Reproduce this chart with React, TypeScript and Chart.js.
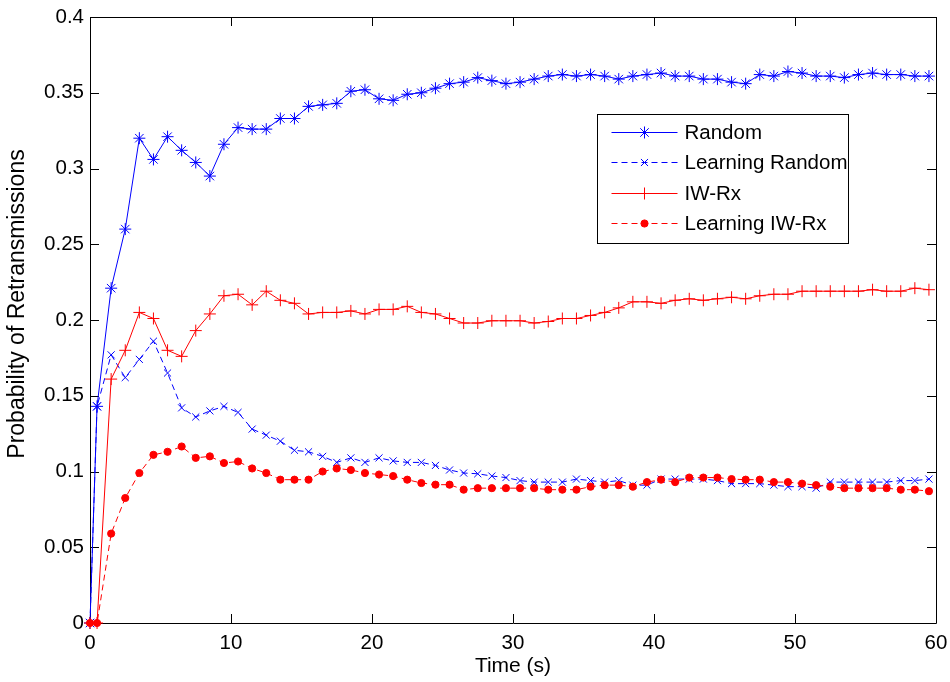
import React, { useEffect, useRef } from 'react';
import { Chart, registerables } from 'chart.js';

Chart.register(...registerables);

const times = [
  0, 0.5, 1.5, 2.5, 3.5, 4.5, 5.5, 6.5, 7.5, 8.5, 9.5, 10.5, 11.5, 12.5, 13.5, 14.5,
  15.5, 16.5, 17.5, 18.5, 19.5, 20.5, 21.5, 22.5, 23.5, 24.5, 25.5, 26.5, 27.5, 28.5,
  29.5, 30.5, 31.5, 32.5, 33.5, 34.5, 35.5, 36.5, 37.5, 38.5, 39.5, 40.5, 41.5, 42.5,
  43.5, 44.5, 45.5, 46.5, 47.5, 48.5, 49.5, 50.5, 51.5, 52.5, 53.5, 54.5, 55.5, 56.5,
  57.5, 58.5, 59.5,
];

const randomVals = [
  0, 0.143, 0.221, 0.26, 0.32, 0.306, 0.321, 0.312, 0.304, 0.295, 0.316, 0.327, 0.326,
  0.326, 0.333, 0.333, 0.341, 0.342, 0.343, 0.351, 0.352, 0.346, 0.345, 0.349, 0.35,
  0.353, 0.356, 0.357, 0.36, 0.358, 0.356, 0.357, 0.359, 0.361, 0.362, 0.361, 0.362,
  0.361, 0.359, 0.361, 0.362, 0.363, 0.361, 0.361, 0.359, 0.359, 0.357, 0.356, 0.362,
  0.361, 0.364, 0.363, 0.361, 0.361, 0.36, 0.362, 0.363, 0.362, 0.362, 0.361, 0.361,
];

const learningRandomVals = [
  0, 0.143, 0.177, 0.162, 0.174, 0.186, 0.165, 0.142, 0.136, 0.14, 0.143, 0.139, 0.128,
  0.124, 0.12, 0.114, 0.113, 0.11, 0.106, 0.109, 0.106, 0.109, 0.107, 0.106, 0.106,
  0.104, 0.101, 0.099, 0.0985, 0.097, 0.096, 0.094, 0.093, 0.093, 0.093, 0.095, 0.094,
  0.093, 0.094, 0.091, 0.091, 0.095, 0.095, 0.095, 0.095, 0.094, 0.092, 0.092, 0.092,
  0.091, 0.09, 0.09, 0.089, 0.093, 0.093, 0.093, 0.093, 0.093, 0.094, 0.094, 0.095,
];

const iwRxVals = [
  0, 0, 0.161, 0.18, 0.205, 0.201, 0.18, 0.176, 0.193, 0.204, 0.216, 0.217, 0.21, 0.219,
  0.213, 0.211, 0.204, 0.205, 0.205, 0.206, 0.204, 0.207, 0.207, 0.209, 0.205, 0.204,
  0.201, 0.198, 0.198, 0.1995, 0.1995, 0.1995, 0.198, 0.199, 0.201, 0.201, 0.203, 0.205,
  0.208, 0.212, 0.212, 0.211, 0.213, 0.214, 0.213, 0.214, 0.215, 0.214, 0.216, 0.217,
  0.217, 0.219, 0.219, 0.219, 0.219, 0.219, 0.22, 0.219, 0.219, 0.221, 0.22,
];

const learningIwRxVals = [
  0, 0, 0.059, 0.0825, 0.099, 0.111, 0.113, 0.1165, 0.109, 0.11, 0.1056, 0.1066, 0.102,
  0.099, 0.0946, 0.0946, 0.0946, 0.1, 0.102, 0.101, 0.099, 0.098, 0.097, 0.0946, 0.0924,
  0.0913, 0.0913, 0.088, 0.089, 0.089, 0.089, 0.089, 0.089, 0.088, 0.088, 0.088, 0.09,
  0.091, 0.091, 0.09, 0.093, 0.0946, 0.093, 0.096, 0.096, 0.096, 0.095, 0.0946, 0.0946,
  0.093, 0.093, 0.092, 0.091, 0.09, 0.089, 0.089, 0.089, 0.089, 0.088, 0.088, 0.087,
];

const seriesLabels = ['Random', 'Learning Random', 'IW-Rx', 'Learning IW-Rx'];
const xTickValues = [0, 10, 20, 30, 40, 50, 60];
const xTickLabels = ['0', '10', '20', '30', '40', '50', '60'];
const yTickValues = [0, 0.05, 0.1, 0.15, 0.2, 0.25, 0.3, 0.35, 0.4];
const yTickLabels = ['0', '0.05', '0.1', '0.15', '0.2', '0.25', '0.3', '0.35', '0.4'];
const xTitle = 'Time (s)';
const yTitle = 'Probability of Retransmissions';

const FONT = "'Liberation Sans', Arial, sans-serif";
const BLUE = '#0000ff';
const RED = '#ff0000';

function drawMarker(ctx: CanvasRenderingContext2D, style: string, x: number, y: number, r: number, color: string) {
  ctx.save();
  ctx.strokeStyle = color;
  ctx.fillStyle = color;
  ctx.lineWidth = 1;
  ctx.setLineDash([]);
  ctx.beginPath();
  const d = r * Math.SQRT1_2;
  if (style === 'star' || style === 'cross') {
    ctx.moveTo(x - r, y);
    ctx.lineTo(x + r, y);
    ctx.moveTo(x, y - r);
    ctx.lineTo(x, y + r);
  }
  if (style === 'star' || style === 'crossRot') {
    ctx.moveTo(x - d, y - d);
    ctx.lineTo(x + d, y + d);
    ctx.moveTo(x - d, y + d);
    ctx.lineTo(x + d, y - d);
  }
  if (style === 'circle') {
    ctx.arc(x, y, r, 0, Math.PI * 2);
    ctx.fill();
  }
  ctx.stroke();
  ctx.restore();
}

const boxPlugin = {
  id: 'matlabBox',
  beforeDatasetsDraw(chart: any) {
    const { ctx, chartArea } = chart;
    const { left, right, top, bottom } = chartArea;
    const xs = chart.scales.x;
    const ys = chart.scales.y;
    const tl = 9;
    ctx.save();
    ctx.strokeStyle = '#000';
    ctx.lineWidth = 1;
    ctx.beginPath();
    ctx.rect(Math.round(left) + 0.5, Math.round(top) + 0.5, Math.round(right - left), Math.round(bottom - top));
    ctx.stroke();
    ctx.beginPath();
    xTickValues.forEach((v) => {
      const px = Math.round(xs.getPixelForValue(v)) + 0.5;
      ctx.moveTo(px, bottom);
      ctx.lineTo(px, bottom - tl);
      ctx.moveTo(px, top);
      ctx.lineTo(px, top + tl);
    });
    yTickValues.forEach((v) => {
      const py = Math.round(ys.getPixelForValue(v)) + 0.5;
      ctx.moveTo(left, py);
      ctx.lineTo(left + tl, py);
      ctx.moveTo(right, py);
      ctx.lineTo(right - tl, py);
    });
    ctx.stroke();
    // y-axis title
    ctx.translate(18, (top + bottom) / 2 - 16);
    ctx.rotate(-Math.PI / 2);
    ctx.fillStyle = '#000';
    ctx.font = `23px ${FONT}`;
    ctx.textAlign = 'center';
    ctx.textBaseline = 'middle';
    ctx.fillText(yTitle, 0, 0);
    ctx.restore();
  },
};

const legendPlugin = {
  id: 'matlabLegend',
  afterDraw(chart: any) {
    const { ctx, chartArea } = chart;
    const bx = Math.round(chartArea.right - 339) + 0.5;
    const by = Math.round(chartArea.top + 97) + 0.5;
    const bw = 251;
    const bh = 129;
    ctx.save();
    ctx.fillStyle = '#fff';
    ctx.fillRect(bx, by, bw, bh);
    ctx.strokeStyle = '#000';
    ctx.lineWidth = 1;
    ctx.strokeRect(bx, by, bw, bh);
    ctx.font = `20.5px ${FONT}`;
    ctx.textBaseline = 'middle';
    ctx.textAlign = 'left';
    chart.data.datasets.forEach((ds: any, i: number) => {
      const y = Math.round(by + 17.5 + i * 30.3) + 0.5;
      ctx.save();
      ctx.strokeStyle = ds.borderColor;
      ctx.lineWidth = 1;
      ctx.setLineDash(ds.borderDash || []);
      ctx.beginPath();
      ctx.moveTo(bx + 14, y);
      ctx.lineTo(bx + 80, y);
      ctx.stroke();
      ctx.restore();
      drawMarker(ctx, ds.pointStyle, bx + 47, y, ds.pointRadius, ds.borderColor);
      ctx.fillStyle = '#000';
      ctx.fillText(ds.label, bx + 87, y + 1);
    });
    ctx.restore();
  },
};

function makePoints(vals: number[]) {
  return times.map((t, i) => ({ x: t, y: vals[i] }));
}

export default function App() {
  const ref = useRef<HTMLCanvasElement>(null);

  useEffect(() => {
    const canvas = ref.current;
    if (!canvas) return;
    const styles = [
      { color: BLUE, dash: [], point: 'star', r: 6, order: 3 },
      { color: BLUE, dash: [6, 4], point: 'crossRot', r: 5, order: 2 },
      { color: RED, dash: [], point: 'cross', r: 6, order: 1 },
      { color: RED, dash: [6, 4], point: 'circle', r: 3.6, order: 0 },
    ];
    const valueSets = [randomVals, learningRandomVals, iwRxVals, learningIwRxVals];
    const datasets = valueSets.map((vals, i) => ({
      label: seriesLabels[i],
      data: makePoints(vals),
      borderColor: styles[i].color,
      backgroundColor: styles[i].color,
      borderWidth: 1,
      borderDash: styles[i].dash,
      pointStyle: styles[i].point,
      pointRadius: styles[i].r,
      pointBorderWidth: 1,
      pointBorderColor: styles[i].color,
      pointBackgroundColor: styles[i].color,
      tension: 0,
      fill: false,
      clip: false as any,
      order: styles[i].order,
    }));

    const zeroPad = (s: any) => {
      s.paddingLeft = 0;
      s.paddingRight = 0;
      s.paddingTop = 0;
      s.paddingBottom = 0;
    };

    const chart = new Chart(canvas, {
      type: 'line',
      data: { datasets },
      options: {
        animation: false,
        responsive: false,
        maintainAspectRatio: false,
        layout: { padding: { left: 0, right: 14, top: 17, bottom: 0 } },
        plugins: { legend: { display: false }, tooltip: { enabled: false } },
        font: { family: FONT },
        scales: {
          x: {
            type: 'linear',
            min: 0,
            max: 60,
            grid: { display: false, drawTicks: false },
            border: { display: false },
            afterBuildTicks: (s: any) => {
              s.ticks = xTickValues.map((v) => ({ value: v }));
            },
            afterFit: (s: any) => {
              s.height = 59;
              zeroPad(s);
            },
            ticks: {
              padding: 8,
              color: '#000',
              font: { family: FONT, size: 20.5 },
              maxRotation: 0,
              autoSkip: false,
              callback: (_v: any, idx: number) => xTickLabels[idx],
            },
            title: {
              display: true,
              text: xTitle,
              color: '#000',
              font: { family: FONT, size: 21 },
              padding: { top: 0, bottom: 3 },
            },
          },
          y: {
            type: 'linear',
            min: 0,
            max: 0.4,
            grid: { display: false, drawTicks: false },
            border: { display: false },
            afterBuildTicks: (s: any) => {
              s.ticks = yTickValues.map((v) => ({ value: v }));
            },
            afterFit: (s: any) => {
              s.width = 90;
              zeroPad(s);
            },
            ticks: {
              padding: 6,
              color: '#000',
              font: { family: FONT, size: 20.5 },
              autoSkip: false,
              callback: (_v: any, idx: number) => yTickLabels[idx],
            },
            title: { display: false },
          },
        },
      } as any,
      plugins: [boxPlugin, legendPlugin],
    });
    return () => chart.destroy();
  }, []);

  return (
    <div style={{ position: 'fixed', left: 0, top: 0, width: 950, height: 682, background: '#fff' }}>
      <canvas ref={ref} width={950} height={682} style={{ width: 950, height: 682, display: 'block' }} />
    </div>
  );
}
